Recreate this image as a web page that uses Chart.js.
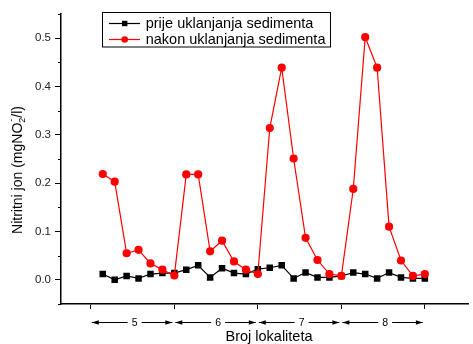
<!DOCTYPE html>
<html>
<head>
<meta charset="utf-8">
<script src="https://cdn.jsdelivr.net/npm/chart.js@4.4.1/dist/chart.umd.min.js"></script>
<style>
  html, body { margin: 0; padding: 0; background: #fff; }
  #wrap { width: 473px; height: 344px; position: relative; }
</style>
</head>
<body>
<div id="wrap"><canvas id="c" width="473" height="344"></canvas></div>
<script>
// Sampling point numbers along the x axis (7 samples per site)
const samplePoints = [1,2,3,4,5,6,7,8,9,10,11,12,13,14,15,16,17,18,19,20,21,22,23,24,25,26,27,28];

// Nitrite ion concentration before sediment removal (mg NO2-/l)
const beforeRemoval = [0.012,0.000,0.008,0.003,0.012,0.014,0.014,
                       0.021,0.030,0.005,0.024,0.014,0.012,0.022,
                       0.025,0.030,0.003,0.015,0.005,0.005,0.008,
                       0.015,0.012,0.003,0.015,0.005,0.003,0.003];

// Nitrite ion concentration after sediment removal (mg NO2-/l)
const afterRemoval = [0.219,0.203,0.055,0.062,0.034,0.021,0.009,
                      0.218,0.218,0.059,0.081,0.038,0.021,0.012,
                      0.314,0.439,0.251,0.087,0.041,0.012,0.008,
                      0.188,0.502,0.439,0.110,0.040,0.008,0.012];

// Site boundaries on the x axis and the site numbers between them
const xTicks = [0, 7, 14, 21, 28];
const siteLabels = ['5', '6', '7', '8'];

// Y axis ticks
const yMajorTicks = [0.0, 0.1, 0.2, 0.3, 0.4, 0.5];
const yMinorTicks = [-0.05, 0.05, 0.15, 0.25, 0.35, 0.45, 0.55];

const seriesNames = ['prije uklanjanja sedimenta', 'nakon uklanjanja sedimenta'];

const FONT = '"Liberation Sans", Arial, sans-serif';

const toXY = vals => vals.map((v, i) => ({ x: samplePoints[i], y: v }));

// Draws legend, axis titles, minor y ticks and the site arrows
const decorations = {
  id: 'decorations',
  afterDraw(chart) {
    const ctx = chart.ctx;
    const xs = chart.scales.x, ys = chart.scales.y;
    const area = chart.chartArea;
    ctx.save();

    // minor ticks on the y axis
    ctx.strokeStyle = '#000';
    ctx.lineWidth = 1;
    yMinorTicks.forEach(v => {
      const y = Math.round(ys.getPixelForValue(v)) + 0.5;
      ctx.beginPath();
      ctx.moveTo(area.left - 3, y);
      ctx.lineTo(area.left, y);
      ctx.stroke();
    });

    // site arrows below the x axis
    const arrowY = 322.5;
    ctx.fillStyle = '#000';
    ctx.lineWidth = 1;
    const head = (tipX, dir) => {
      ctx.beginPath();
      ctx.moveTo(tipX, arrowY);
      ctx.lineTo(tipX - dir * 7, arrowY - 2.2);
      ctx.lineTo(tipX - dir * 7, arrowY + 2.2);
      ctx.closePath();
      ctx.fill();
    };
    ctx.font = '10.5px ' + FONT;
    ctx.textAlign = 'center';
    ctx.textBaseline = 'middle';
    for (let i = 0; i < siteLabels.length; i++) {
      const x0 = xs.getPixelForValue(xTicks[i]);
      const x1 = xs.getPixelForValue(xTicks[i + 1]);
      const left = x0 + 1;
      const right = x1 - 2;
      const mid = (x0 + x1) / 2 + 2;
      ctx.beginPath();
      ctx.moveTo(left, arrowY);
      ctx.lineTo(mid - 7, arrowY);
      ctx.moveTo(mid + 7, arrowY);
      ctx.lineTo(right, arrowY);
      ctx.stroke();
      head(left, -1);
      head(right, 1);
      ctx.fillText(siteLabels[i], mid, arrowY + 1);
    }

    // x axis title
    ctx.font = '14.5px ' + FONT;
    ctx.textAlign = 'center';
    ctx.textBaseline = 'alphabetic';
    ctx.fillText('Broj lokaliteta', 269, 341);

    // y axis title with NO2- sub/superscript
    ctx.translate(22, 170);
    ctx.rotate(-Math.PI / 2);
    ctx.textAlign = 'left';
    const big = '14px ' + FONT, small = '9px ' + FONT;
    const p1 = 'Nitritni jon (mgNO', p3 = '/l)';
    ctx.font = big;
    const w1 = ctx.measureText(p1).width, w3 = ctx.measureText(p3).width;
    ctx.font = small;
    const w2 = Math.max(ctx.measureText('2').width, ctx.measureText('-').width);
    const total = w1 + w2 + w3;
    let x = -total / 2;
    ctx.font = big;
    ctx.fillText(p1, x, 0);
    x += w1;
    ctx.font = small;
    ctx.fillText('2', x, 3);
    ctx.fillText('-', x + 1, -8);
    x += w2;
    ctx.font = big;
    ctx.fillText(p3, x, 0);
    ctx.setTransform(1, 0, 0, 1, 0, 0);

    // legend
    const lx = 102.5, ly = 12.5, lw = 228, lh = 34.5;
    ctx.fillStyle = '#fff';
    ctx.fillRect(lx, ly, lw, lh);
    ctx.strokeStyle = '#000';
    ctx.lineWidth = 1;
    ctx.strokeRect(lx, ly, lw, lh);
    const rows = [
      { y: 23.5, color: '#000', style: 'rect', name: seriesNames[0] },
      { y: 39.5, color: '#ff0000', style: 'circle', name: seriesNames[1] }
    ];
    ctx.font = '14.5px ' + FONT;
    ctx.textBaseline = 'middle';
    ctx.textAlign = 'left';
    rows.forEach(r => {
      ctx.strokeStyle = r.color;
      ctx.lineWidth = 1.2;
      ctx.beginPath();
      ctx.moveTo(109, r.y);
      ctx.lineTo(140, r.y);
      ctx.stroke();
      ctx.fillStyle = r.color;
      ctx.beginPath();
      if (r.style === 'rect') {
        ctx.rect(124.7 - 2.7, r.y - 2.7, 5.4, 5.4);
      } else {
        ctx.arc(124.7, r.y, 3.3, 0, Math.PI * 2);
      }
      ctx.fill();
      ctx.fillStyle = '#000';
      ctx.fillText(r.name, 145.7, r.y + 0.5);
    });

    ctx.restore();
  }
};

new Chart(document.getElementById('c'), {
  type: 'line',
  data: {
    datasets: [
      {
        label: seriesNames[0],
        data: toXY(beforeRemoval),
        borderColor: '#000',
        backgroundColor: '#000',
        borderWidth: 1.2,
        pointStyle: 'rect',
        pointRadius: 4.6,
        pointBorderWidth: 0,
        tension: 0,
        order: 1
      },
      {
        label: seriesNames[1],
        data: toXY(afterRemoval),
        borderColor: '#ff0000',
        backgroundColor: '#ff0000',
        borderWidth: 1.2,
        pointStyle: 'circle',
        pointRadius: 4.1,
        pointBorderWidth: 0,
        tension: 0,
        order: 0
      }
    ]
  },
  options: {
    responsive: false,
    animation: false,
    devicePixelRatio: 1,
    layout: { padding: { top: 14, left: 0, right: 0, bottom: 0 } },
    plugins: { legend: { display: false }, tooltip: { enabled: false } },
    scales: {
      x: {
        type: 'linear',
        min: -2.5,
        max: 31.65,
        afterBuildTicks: s => { s.ticks = xTicks.map(v => ({ value: v })); },
        afterFit: s => { s.height = 40; },
        border: { display: true, color: '#000', width: 1.5 },
        grid: { drawOnChartArea: false, drawTicks: true, tickLength: 5, color: '#000', tickColor: '#000', tickWidth: 1 },
        ticks: { callback: () => '', padding: 0 }
      },
      y: {
        min: -0.05,
        max: 0.55,
        afterBuildTicks: s => { s.ticks = yMajorTicks.map(v => ({ value: v })); },
        afterFit: s => { s.width = 61; },
        border: { display: true, color: '#000', width: 1.5 },
        grid: { drawOnChartArea: false, drawTicks: true, tickLength: 6, color: '#000', tickColor: '#000', tickWidth: 1 },
        ticks: {
          color: '#222',
          padding: 4,
          font: { family: FONT, size: 11.5 },
          callback: v => v.toFixed(1)
        }
      }
    }
  },
  plugins: [decorations]
});
</script>
</body>
</html>
